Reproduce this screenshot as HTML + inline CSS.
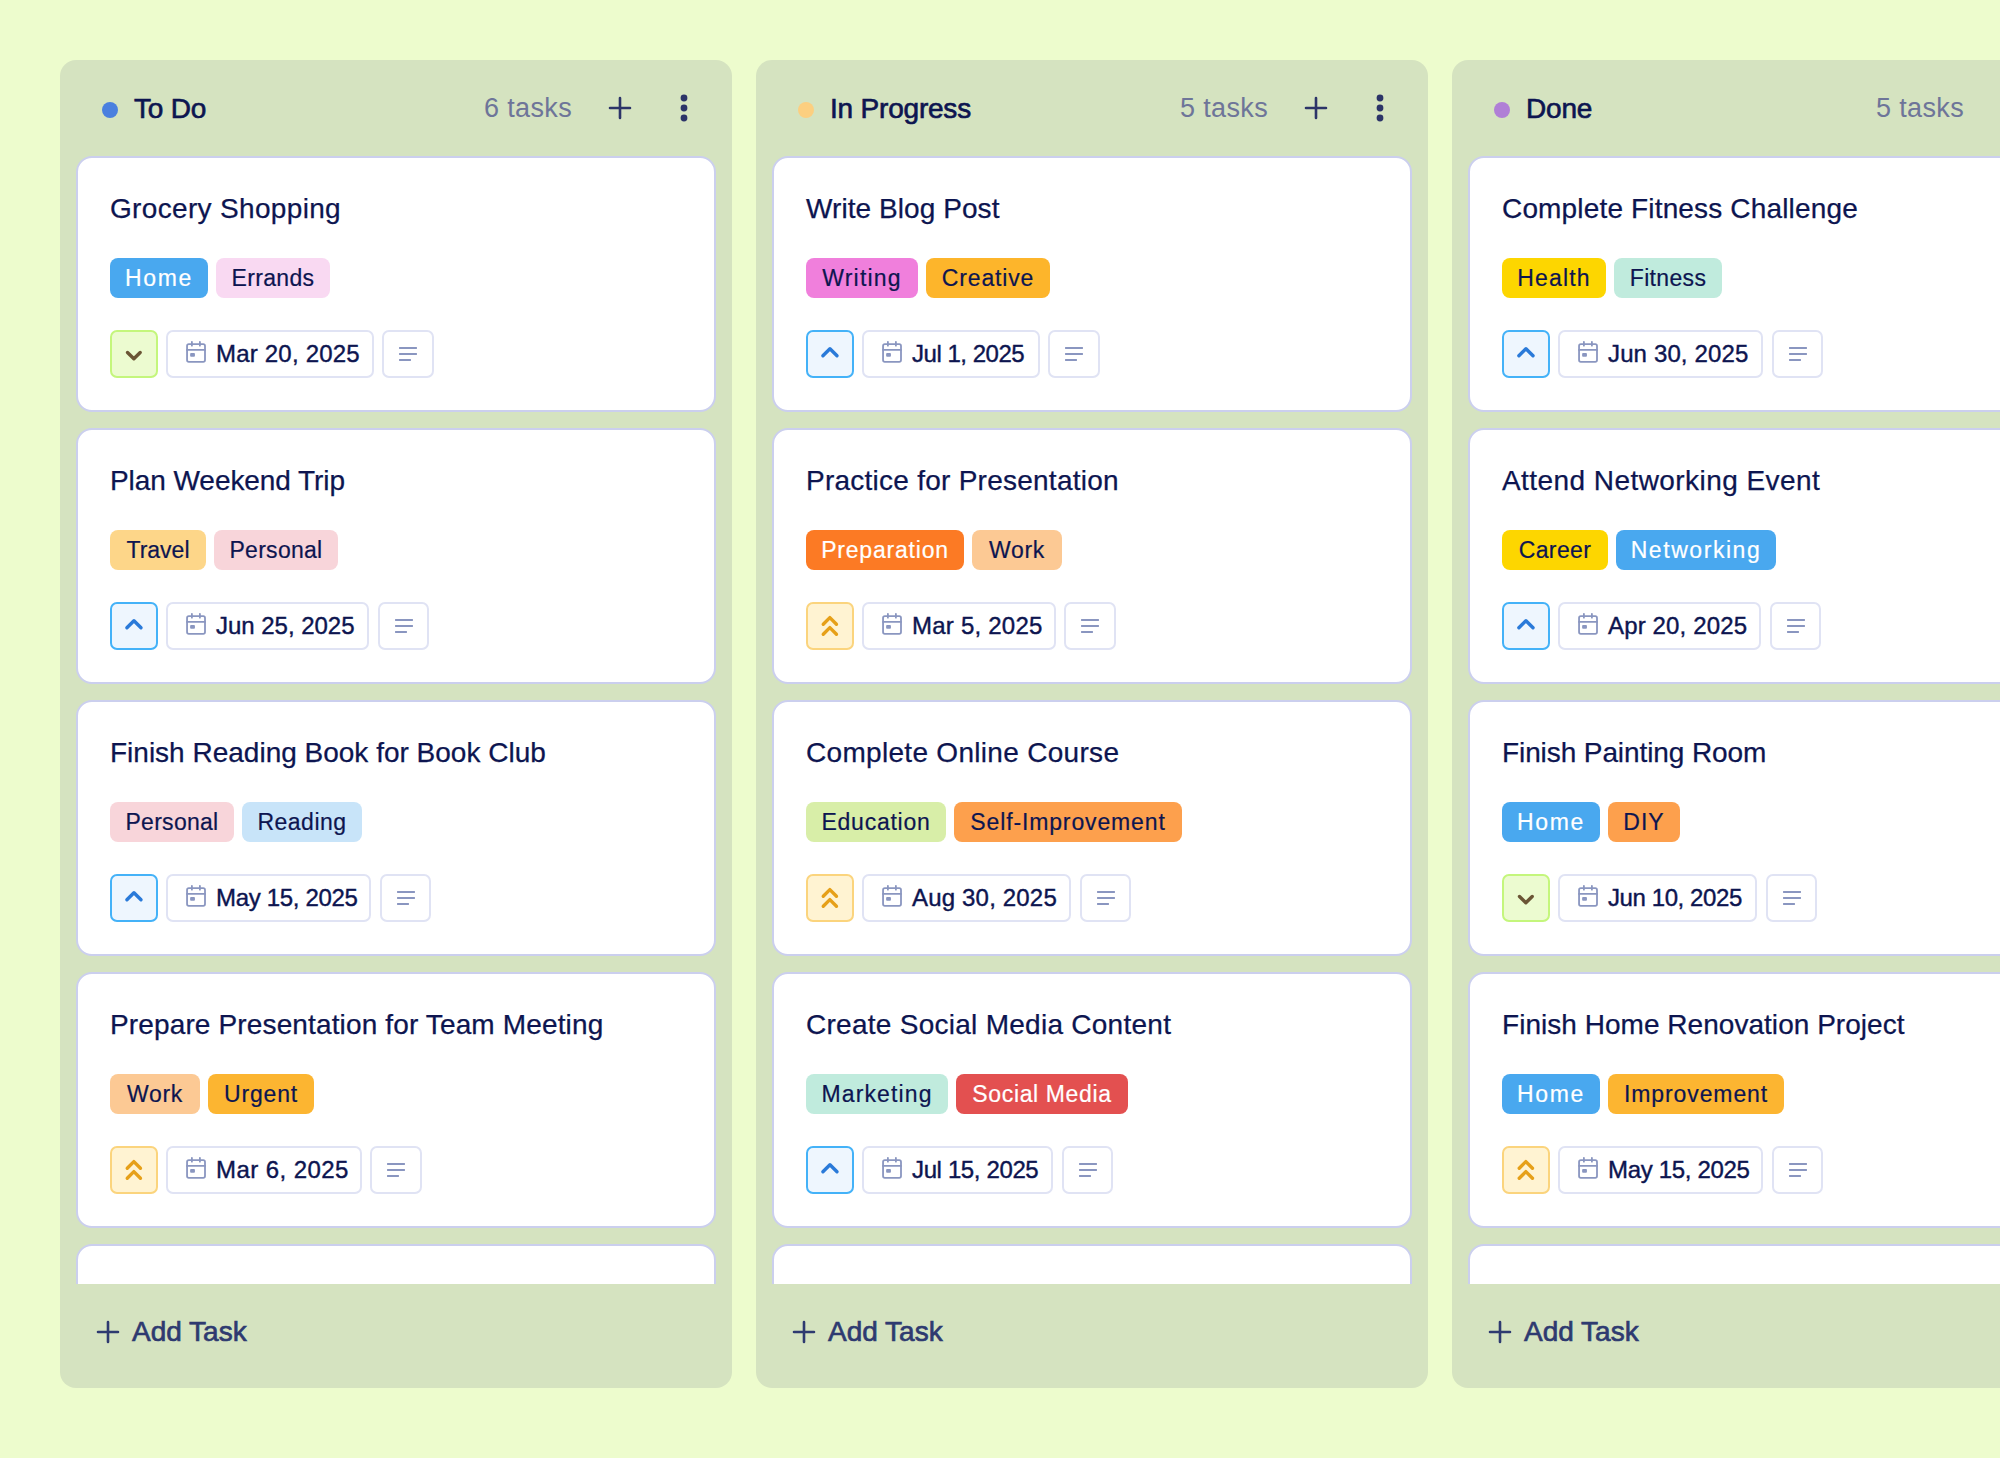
<!DOCTYPE html>
<html><head><meta charset="utf-8"><style>
*{box-sizing:border-box;margin:0;padding:0}
html,body{width:2000px;height:1458px;overflow:hidden;background:#edfccd;font-family:"Liberation Sans",sans-serif;color:#0d1550}
.col{position:absolute;top:60px;width:672px;height:1328px;background:#d5e3c0;border-radius:16px}
.hdr{position:absolute;left:0;top:0;width:672px;height:96px}
.dot{position:absolute;left:42px;top:42px;width:16px;height:16px;border-radius:50%}
.hname{position:absolute;left:74px;top:31px;line-height:36px;font-size:28px;font-weight:400;-webkit-text-stroke:0.65px #0d1550;letter-spacing:-0.2px;white-space:nowrap}
.count{position:absolute;right:160px;top:30px;line-height:36px;font-size:27px;letter-spacing:0.35px;color:#6e7599;white-space:nowrap}
.plus{position:absolute;left:536px;top:24px}
.kebab{position:absolute;left:600px;top:24px}
.list{position:absolute;left:16px;top:96px;width:640px;height:1128px;overflow:hidden}
.card{position:relative;width:640px;height:256px;margin-bottom:16px;background:#fff;border:2px solid #cbcfee;border-radius:16px}
.title{position:absolute;left:32px;top:33px;line-height:36px;font-size:28px;-webkit-text-stroke:0.25px #0d1550;white-space:nowrap}
.tags{position:absolute;left:32px;top:100px;display:flex;gap:8px}
.tag{height:40px;line-height:40px;font-size:23px;-webkit-text-stroke:0.2px currentColor;border-radius:8px;text-align:center;white-space:nowrap}
.row{position:absolute;left:32px;top:172px;height:48px;width:560px}
.pr{position:absolute;left:0;top:0;width:48px;height:48px;border:2px solid;border-radius:7px}
.date{position:absolute;left:56px;top:0;height:48px;border:2px solid #e0e3f4;border-radius:7px;background:#fff}
.cal{position:absolute;left:16px;top:8px}
.dtxt{position:absolute;left:48px;top:0;line-height:44px;font-size:24px;font-weight:400;-webkit-text-stroke:0.4px #0d1550;white-space:nowrap}
.notes{position:absolute;top:0;width:51.5px;height:48px;border:2px solid #e0e3f4;border-radius:7px;background:#fff}
.notes svg{position:absolute;left:-2px;top:-2px}
.foot{position:absolute;left:0;top:1224px;width:672px;height:104px}
.foot svg{position:absolute;left:36px;top:35.5px}
.ftxt{position:absolute;left:72px;top:30px;line-height:36px;font-size:28px;font-weight:400;-webkit-text-stroke:0.65px #2e3a70;color:#2e3a70;white-space:nowrap}
</style></head><body>

<div class="col" style="left:60px">
<div class="hdr">
<span class="dot" style="background:#4a80df"></span>
<span class="hname">To Do</span>
<span class="count">6 tasks</span>
<svg class="plus" width="48" height="48" viewBox="0 0 48 48" fill="none" stroke="#2c3468" stroke-width="2.6" stroke-linecap="round"><path d="M24 14V34M14 24H34"/></svg>
<svg class="kebab" width="48" height="48" viewBox="0 0 48 48" fill="#2c3468"><circle cx="24" cy="14" r="3.4"/><circle cx="24" cy="24" r="3.4"/><circle cx="24" cy="34" r="3.4"/></svg>
</div>
<div class="list">
<div class="card">
<div class="title" style="letter-spacing:0.333px;">Grocery Shopping</div>
<div class="tags"><span class="tag" style="width:98px;background:#49a8ef;color:#fff;letter-spacing:1.667px;">Home</span><span class="tag" style="width:114px;background:#f9d9f2;color:#0d1550;letter-spacing:0.333px;">Errands</span></div>
<div class="row">
<div class="pr" style="border-color:#c4f67c;background:#ecfbd0"><svg width="48" height="48" viewBox="110 330 48 48" fill="none" stroke="#6b5535" stroke-width="3.4" stroke-linecap="round" stroke-linejoin="round" style="position:absolute;left:-2px;top:-2px"><path d="M127.5 352.5L133.85 358.75L140.2 352.5"/></svg></div>
<div class="date" style="width:207.5px"><svg class="cal" width="24" height="24" viewBox="0 0 24 24" fill="none" stroke="#8a96c0" stroke-width="1.8" stroke-linecap="round"><rect x="3.05" y="4.1" width="17.95" height="17.8" rx="1.8"/><path d="M7.9 1.8V5.7M15.9 1.8V5.7M3.05 9.9H21"/><rect x="6.13" y="13.07" width="4.8" height="3.7" rx="0.9" fill="#8a96c0" stroke="none"/></svg><span class="dtxt" style="letter-spacing:0.205px;">Mar 20, 2025</span></div>
<div class="notes" style="left:272.0px"><svg width="52" height="48" viewBox="0 0 52 48" fill="none" stroke="#8a96c0" stroke-width="2"><path d="M17.1 18H34.9M17.1 24H34.9M17.1 30H28.9"/></svg></div>
</div>
</div>
<div class="card">
<div class="title" style="letter-spacing:-0.062px;">Plan Weekend Trip</div>
<div class="tags"><span class="tag" style="width:96px;background:#fdd689;color:#0d1550;">Travel</span><span class="tag" style="width:124px;background:#f8d5da;color:#0d1550;letter-spacing:0.286px;">Personal</span></div>
<div class="row">
<div class="pr" style="border-color:#44b2f8;background:#eef6fe"><svg width="48" height="48" viewBox="110 330 48 48" fill="none" stroke="#2a7ad9" stroke-width="3.4" stroke-linecap="round" stroke-linejoin="round" style="position:absolute;left:-2px;top:-2px"><path d="M126.9 355.8L133.95 348.7L141 355.8"/></svg></div>
<div class="date" style="width:203px"><svg class="cal" width="24" height="24" viewBox="0 0 24 24" fill="none" stroke="#8a96c0" stroke-width="1.8" stroke-linecap="round"><rect x="3.05" y="4.1" width="17.95" height="17.8" rx="1.8"/><path d="M7.9 1.8V5.7M15.9 1.8V5.7M3.05 9.9H21"/><rect x="6.13" y="13.07" width="4.8" height="3.7" rx="0.9" fill="#8a96c0" stroke="none"/></svg><span class="dtxt" style="letter-spacing:-0.023px;">Jun 25, 2025</span></div>
<div class="notes" style="left:267.5px"><svg width="52" height="48" viewBox="0 0 52 48" fill="none" stroke="#8a96c0" stroke-width="2"><path d="M17.1 18H34.9M17.1 24H34.9M17.1 30H28.9"/></svg></div>
</div>
</div>
<div class="card">
<div class="title" style="">Finish Reading Book for Book Club</div>
<div class="tags"><span class="tag" style="width:124px;background:#f8d5da;color:#0d1550;letter-spacing:0.286px;">Personal</span><span class="tag" style="width:120px;background:#c8e4f9;color:#0d1550;letter-spacing:0.500px;">Reading</span></div>
<div class="row">
<div class="pr" style="border-color:#44b2f8;background:#eef6fe"><svg width="48" height="48" viewBox="110 330 48 48" fill="none" stroke="#2a7ad9" stroke-width="3.4" stroke-linecap="round" stroke-linejoin="round" style="position:absolute;left:-2px;top:-2px"><path d="M126.9 355.8L133.95 348.7L141 355.8"/></svg></div>
<div class="date" style="width:205.2px"><svg class="cal" width="24" height="24" viewBox="0 0 24 24" fill="none" stroke="#8a96c0" stroke-width="1.8" stroke-linecap="round"><rect x="3.05" y="4.1" width="17.95" height="17.8" rx="1.8"/><path d="M7.9 1.8V5.7M15.9 1.8V5.7M3.05 9.9H21"/><rect x="6.13" y="13.07" width="4.8" height="3.7" rx="0.9" fill="#8a96c0" stroke="none"/></svg><span class="dtxt" style="letter-spacing:-0.332px;">May 15, 2025</span></div>
<div class="notes" style="left:269.7px"><svg width="52" height="48" viewBox="0 0 52 48" fill="none" stroke="#8a96c0" stroke-width="2"><path d="M17.1 18H34.9M17.1 24H34.9M17.1 30H28.9"/></svg></div>
</div>
</div>
<div class="card">
<div class="title" style="letter-spacing:0.139px;">Prepare Presentation for Team Meeting</div>
<div class="tags"><span class="tag" style="width:90px;background:#fcc994;color:#0d1550;letter-spacing:0.667px;">Work</span><span class="tag" style="width:106px;background:#fcb531;color:#0d1550;letter-spacing:0.800px;">Urgent</span></div>
<div class="row">
<div class="pr" style="border-color:#fbd47d;background:#fff3d2"><svg width="48" height="48" viewBox="110 330 48 48" fill="none" stroke="#e6a019" stroke-width="3.4" stroke-linecap="round" stroke-linejoin="round" style="position:absolute;left:-2px;top:-2px"><path d="M127.25 352.2L133.85 345.6L140.45 352.2M127.25 362.2L133.85 355.66L140.45 362.2"/></svg></div>
<div class="date" style="width:195.5px"><svg class="cal" width="24" height="24" viewBox="0 0 24 24" fill="none" stroke="#8a96c0" stroke-width="1.8" stroke-linecap="round"><rect x="3.05" y="4.1" width="17.95" height="17.8" rx="1.8"/><path d="M7.9 1.8V5.7M15.9 1.8V5.7M3.05 9.9H21"/><rect x="6.13" y="13.07" width="4.8" height="3.7" rx="0.9" fill="#8a96c0" stroke="none"/></svg><span class="dtxt" style="letter-spacing:0.425px;">Mar 6, 2025</span></div>
<div class="notes" style="left:260.0px"><svg width="52" height="48" viewBox="0 0 52 48" fill="none" stroke="#8a96c0" stroke-width="2"><path d="M17.1 18H34.9M17.1 24H34.9M17.1 30H28.9"/></svg></div>
</div>
</div>
<div class="card"></div>
</div>
<div class="foot"><svg width="24" height="24" viewBox="0 0 24 24" fill="none" stroke="#2e3a70" stroke-width="2.6" stroke-linecap="round"><path d="M12 2V22M2 12H22"/></svg><span class="ftxt">Add Task</span></div>
</div>
<div class="col" style="left:756px">
<div class="hdr">
<span class="dot" style="background:#fccf80"></span>
<span class="hname">In Progress</span>
<span class="count">5 tasks</span>
<svg class="plus" width="48" height="48" viewBox="0 0 48 48" fill="none" stroke="#2c3468" stroke-width="2.6" stroke-linecap="round"><path d="M24 14V34M14 24H34"/></svg>
<svg class="kebab" width="48" height="48" viewBox="0 0 48 48" fill="#2c3468"><circle cx="24" cy="14" r="3.4"/><circle cx="24" cy="24" r="3.4"/><circle cx="24" cy="34" r="3.4"/></svg>
</div>
<div class="list">
<div class="card">
<div class="title" style="letter-spacing:0.071px;">Write Blog Post</div>
<div class="tags"><span class="tag" style="width:112px;background:#f07fdc;color:#0d1550;letter-spacing:1.167px;">Writing</span><span class="tag" style="width:124px;background:#fdb52b;color:#0d1550;letter-spacing:0.857px;">Creative</span></div>
<div class="row">
<div class="pr" style="border-color:#44b2f8;background:#eef6fe"><svg width="48" height="48" viewBox="110 330 48 48" fill="none" stroke="#2a7ad9" stroke-width="3.4" stroke-linecap="round" stroke-linejoin="round" style="position:absolute;left:-2px;top:-2px"><path d="M126.9 355.8L133.95 348.7L141 355.8"/></svg></div>
<div class="date" style="width:177.5px"><svg class="cal" width="24" height="24" viewBox="0 0 24 24" fill="none" stroke="#8a96c0" stroke-width="1.8" stroke-linecap="round"><rect x="3.05" y="4.1" width="17.95" height="17.8" rx="1.8"/><path d="M7.9 1.8V5.7M15.9 1.8V5.7M3.05 9.9H21"/><rect x="6.13" y="13.07" width="4.8" height="3.7" rx="0.9" fill="#8a96c0" stroke="none"/></svg><span class="dtxt" style="letter-spacing:-0.475px;">Jul 1, 2025</span></div>
<div class="notes" style="left:242.0px"><svg width="52" height="48" viewBox="0 0 52 48" fill="none" stroke="#8a96c0" stroke-width="2"><path d="M17.1 18H34.9M17.1 24H34.9M17.1 30H28.9"/></svg></div>
</div>
</div>
<div class="card">
<div class="title" style="letter-spacing:0.250px;">Practice for Presentation</div>
<div class="tags"><span class="tag" style="width:158px;background:#fc7a24;color:#fff;letter-spacing:0.800px;">Preparation</span><span class="tag" style="width:90px;background:#fcc994;color:#0d1550;letter-spacing:0.667px;">Work</span></div>
<div class="row">
<div class="pr" style="border-color:#fbd47d;background:#fff3d2"><svg width="48" height="48" viewBox="110 330 48 48" fill="none" stroke="#e6a019" stroke-width="3.4" stroke-linecap="round" stroke-linejoin="round" style="position:absolute;left:-2px;top:-2px"><path d="M127.25 352.2L133.85 345.6L140.45 352.2M127.25 362.2L133.85 355.66L140.45 362.2"/></svg></div>
<div class="date" style="width:193.5px"><svg class="cal" width="24" height="24" viewBox="0 0 24 24" fill="none" stroke="#8a96c0" stroke-width="1.8" stroke-linecap="round"><rect x="3.05" y="4.1" width="17.95" height="17.8" rx="1.8"/><path d="M7.9 1.8V5.7M15.9 1.8V5.7M3.05 9.9H21"/><rect x="6.13" y="13.07" width="4.8" height="3.7" rx="0.9" fill="#8a96c0" stroke="none"/></svg><span class="dtxt" style="letter-spacing:0.225px;">Mar 5, 2025</span></div>
<div class="notes" style="left:258.0px"><svg width="52" height="48" viewBox="0 0 52 48" fill="none" stroke="#8a96c0" stroke-width="2"><path d="M17.1 18H34.9M17.1 24H34.9M17.1 30H28.9"/></svg></div>
</div>
</div>
<div class="card">
<div class="title" style="letter-spacing:0.305px;">Complete Online Course</div>
<div class="tags"><span class="tag" style="width:140px;background:#d8eea8;color:#0d1550;letter-spacing:0.750px;">Education</span><span class="tag" style="width:228px;background:#fda04d;color:#0d1550;letter-spacing:0.867px;">Self-Improvement</span></div>
<div class="row">
<div class="pr" style="border-color:#fbd47d;background:#fff3d2"><svg width="48" height="48" viewBox="110 330 48 48" fill="none" stroke="#e6a019" stroke-width="3.4" stroke-linecap="round" stroke-linejoin="round" style="position:absolute;left:-2px;top:-2px"><path d="M127.25 352.2L133.85 345.6L140.45 352.2M127.25 362.2L133.85 355.66L140.45 362.2"/></svg></div>
<div class="date" style="width:209.4px"><svg class="cal" width="24" height="24" viewBox="0 0 24 24" fill="none" stroke="#8a96c0" stroke-width="1.8" stroke-linecap="round"><rect x="3.05" y="4.1" width="17.95" height="17.8" rx="1.8"/><path d="M7.9 1.8V5.7M15.9 1.8V5.7M3.05 9.9H21"/><rect x="6.13" y="13.07" width="4.8" height="3.7" rx="0.9" fill="#8a96c0" stroke="none"/></svg><span class="dtxt" style="letter-spacing:0.177px;">Aug 30, 2025</span></div>
<div class="notes" style="left:273.9px"><svg width="52" height="48" viewBox="0 0 52 48" fill="none" stroke="#8a96c0" stroke-width="2"><path d="M17.1 18H34.9M17.1 24H34.9M17.1 30H28.9"/></svg></div>
</div>
</div>
<div class="card">
<div class="title" style="letter-spacing:0.269px;">Create Social Media Content</div>
<div class="tags"><span class="tag" style="width:142px;background:#c0ebdd;color:#0d1550;letter-spacing:1.125px;">Marketing</span><span class="tag" style="width:172px;background:#e35050;color:#fff;letter-spacing:0.636px;">Social Media</span></div>
<div class="row">
<div class="pr" style="border-color:#44b2f8;background:#eef6fe"><svg width="48" height="48" viewBox="110 330 48 48" fill="none" stroke="#2a7ad9" stroke-width="3.4" stroke-linecap="round" stroke-linejoin="round" style="position:absolute;left:-2px;top:-2px"><path d="M126.9 355.8L133.95 348.7L141 355.8"/></svg></div>
<div class="date" style="width:191.4px"><svg class="cal" width="24" height="24" viewBox="0 0 24 24" fill="none" stroke="#8a96c0" stroke-width="1.8" stroke-linecap="round"><rect x="3.05" y="4.1" width="17.95" height="17.8" rx="1.8"/><path d="M7.9 1.8V5.7M15.9 1.8V5.7M3.05 9.9H21"/><rect x="6.13" y="13.07" width="4.8" height="3.7" rx="0.9" fill="#8a96c0" stroke="none"/></svg><span class="dtxt" style="letter-spacing:-0.368px;">Jul 15, 2025</span></div>
<div class="notes" style="left:255.9px"><svg width="52" height="48" viewBox="0 0 52 48" fill="none" stroke="#8a96c0" stroke-width="2"><path d="M17.1 18H34.9M17.1 24H34.9M17.1 30H28.9"/></svg></div>
</div>
</div>
<div class="card"></div>
</div>
<div class="foot"><svg width="24" height="24" viewBox="0 0 24 24" fill="none" stroke="#2e3a70" stroke-width="2.6" stroke-linecap="round"><path d="M12 2V22M2 12H22"/></svg><span class="ftxt">Add Task</span></div>
</div>
<div class="col" style="left:1452px">
<div class="hdr">
<span class="dot" style="background:#b07fd6"></span>
<span class="hname">Done</span>
<span class="count">5 tasks</span>
<svg class="plus" width="48" height="48" viewBox="0 0 48 48" fill="none" stroke="#2c3468" stroke-width="2.6" stroke-linecap="round"><path d="M24 14V34M14 24H34"/></svg>
<svg class="kebab" width="48" height="48" viewBox="0 0 48 48" fill="#2c3468"><circle cx="24" cy="14" r="3.4"/><circle cx="24" cy="24" r="3.4"/><circle cx="24" cy="34" r="3.4"/></svg>
</div>
<div class="list">
<div class="card">
<div class="title" style="letter-spacing:0.160px;">Complete Fitness Challenge</div>
<div class="tags"><span class="tag" style="width:104px;background:#fdd600;color:#0d1550;letter-spacing:1.200px;">Health</span><span class="tag" style="width:108px;background:#c0ebdd;color:#0d1550;letter-spacing:0.333px;">Fitness</span></div>
<div class="row">
<div class="pr" style="border-color:#44b2f8;background:#eef6fe"><svg width="48" height="48" viewBox="110 330 48 48" fill="none" stroke="#2a7ad9" stroke-width="3.4" stroke-linecap="round" stroke-linejoin="round" style="position:absolute;left:-2px;top:-2px"><path d="M126.9 355.8L133.95 348.7L141 355.8"/></svg></div>
<div class="date" style="width:205.25px"><svg class="cal" width="24" height="24" viewBox="0 0 24 24" fill="none" stroke="#8a96c0" stroke-width="1.8" stroke-linecap="round"><rect x="3.05" y="4.1" width="17.95" height="17.8" rx="1.8"/><path d="M7.9 1.8V5.7M15.9 1.8V5.7M3.05 9.9H21"/><rect x="6.13" y="13.07" width="4.8" height="3.7" rx="0.9" fill="#8a96c0" stroke="none"/></svg><span class="dtxt" style="letter-spacing:0.136px;">Jun 30, 2025</span></div>
<div class="notes" style="left:269.75px"><svg width="52" height="48" viewBox="0 0 52 48" fill="none" stroke="#8a96c0" stroke-width="2"><path d="M17.1 18H34.9M17.1 24H34.9M17.1 30H28.9"/></svg></div>
</div>
</div>
<div class="card">
<div class="title" style="letter-spacing:0.436px;">Attend Networking Event</div>
<div class="tags"><span class="tag" style="width:106px;background:#fdd600;color:#0d1550;letter-spacing:0.400px;">Career</span><span class="tag" style="width:160px;background:#49a8ef;color:#fff;letter-spacing:1.556px;">Networking</span></div>
<div class="row">
<div class="pr" style="border-color:#44b2f8;background:#eef6fe"><svg width="48" height="48" viewBox="110 330 48 48" fill="none" stroke="#2a7ad9" stroke-width="3.4" stroke-linecap="round" stroke-linejoin="round" style="position:absolute;left:-2px;top:-2px"><path d="M126.9 355.8L133.95 348.7L141 355.8"/></svg></div>
<div class="date" style="width:203.3px"><svg class="cal" width="24" height="24" viewBox="0 0 24 24" fill="none" stroke="#8a96c0" stroke-width="1.8" stroke-linecap="round"><rect x="3.05" y="4.1" width="17.95" height="17.8" rx="1.8"/><path d="M7.9 1.8V5.7M15.9 1.8V5.7M3.05 9.9H21"/><rect x="6.13" y="13.07" width="4.8" height="3.7" rx="0.9" fill="#8a96c0" stroke="none"/></svg><span class="dtxt" style="letter-spacing:0.150px;">Apr 20, 2025</span></div>
<div class="notes" style="left:267.8px"><svg width="52" height="48" viewBox="0 0 52 48" fill="none" stroke="#8a96c0" stroke-width="2"><path d="M17.1 18H34.9M17.1 24H34.9M17.1 30H28.9"/></svg></div>
</div>
</div>
<div class="card">
<div class="title" style="letter-spacing:-0.095px;">Finish Painting Room</div>
<div class="tags"><span class="tag" style="width:98px;background:#49a8ef;color:#fff;letter-spacing:1.667px;">Home</span><span class="tag" style="width:72px;background:#fda04d;color:#0d1550;letter-spacing:1.000px;">DIY</span></div>
<div class="row">
<div class="pr" style="border-color:#c4f67c;background:#ecfbd0"><svg width="48" height="48" viewBox="110 330 48 48" fill="none" stroke="#6b5535" stroke-width="3.4" stroke-linecap="round" stroke-linejoin="round" style="position:absolute;left:-2px;top:-2px"><path d="M127.5 352.5L133.85 358.75L140.2 352.5"/></svg></div>
<div class="date" style="width:199.25px"><svg class="cal" width="24" height="24" viewBox="0 0 24 24" fill="none" stroke="#8a96c0" stroke-width="1.8" stroke-linecap="round"><rect x="3.05" y="4.1" width="17.95" height="17.8" rx="1.8"/><path d="M7.9 1.8V5.7M15.9 1.8V5.7M3.05 9.9H21"/><rect x="6.13" y="13.07" width="4.8" height="3.7" rx="0.9" fill="#8a96c0" stroke="none"/></svg><span class="dtxt" style="letter-spacing:-0.409px;">Jun 10, 2025</span></div>
<div class="notes" style="left:263.75px"><svg width="52" height="48" viewBox="0 0 52 48" fill="none" stroke="#8a96c0" stroke-width="2"><path d="M17.1 18H34.9M17.1 24H34.9M17.1 30H28.9"/></svg></div>
</div>
</div>
<div class="card">
<div class="title" style="letter-spacing:0.034px;">Finish Home Renovation Project</div>
<div class="tags"><span class="tag" style="width:98px;background:#49a8ef;color:#fff;letter-spacing:1.667px;">Home</span><span class="tag" style="width:176px;background:#fcb531;color:#0d1550;letter-spacing:0.900px;">Improvement</span></div>
<div class="row">
<div class="pr" style="border-color:#fbd47d;background:#fff3d2"><svg width="48" height="48" viewBox="110 330 48 48" fill="none" stroke="#e6a019" stroke-width="3.4" stroke-linecap="round" stroke-linejoin="round" style="position:absolute;left:-2px;top:-2px"><path d="M127.25 352.2L133.85 345.6L140.45 352.2M127.25 362.2L133.85 355.66L140.45 362.2"/></svg></div>
<div class="date" style="width:205.25px"><svg class="cal" width="24" height="24" viewBox="0 0 24 24" fill="none" stroke="#8a96c0" stroke-width="1.8" stroke-linecap="round"><rect x="3.05" y="4.1" width="17.95" height="17.8" rx="1.8"/><path d="M7.9 1.8V5.7M15.9 1.8V5.7M3.05 9.9H21"/><rect x="6.13" y="13.07" width="4.8" height="3.7" rx="0.9" fill="#8a96c0" stroke="none"/></svg><span class="dtxt" style="letter-spacing:-0.318px;">May 15, 2025</span></div>
<div class="notes" style="left:269.75px"><svg width="52" height="48" viewBox="0 0 52 48" fill="none" stroke="#8a96c0" stroke-width="2"><path d="M17.1 18H34.9M17.1 24H34.9M17.1 30H28.9"/></svg></div>
</div>
</div>
<div class="card"></div>
</div>
<div class="foot"><svg width="24" height="24" viewBox="0 0 24 24" fill="none" stroke="#2e3a70" stroke-width="2.6" stroke-linecap="round"><path d="M12 2V22M2 12H22"/></svg><span class="ftxt">Add Task</span></div>
</div>
</body></html>
